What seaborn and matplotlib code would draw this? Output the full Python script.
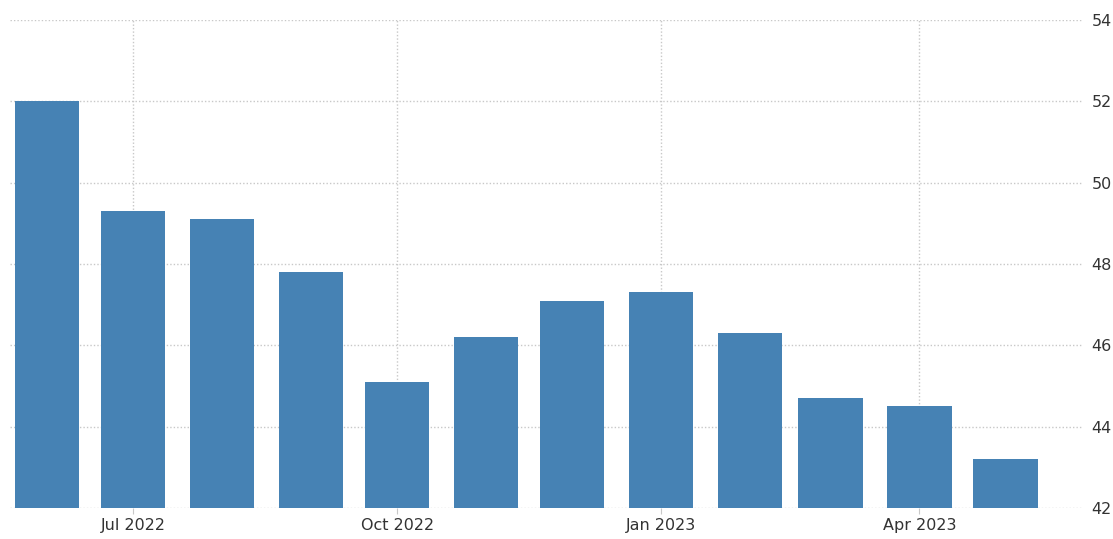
import matplotlib
matplotlib.use("Agg")
import matplotlib.pyplot as plt
import matplotlib.dates as mdates
import numpy as np
import pandas as pd
import seaborn as sns

# Monthly index readings, Jun 2022 - May 2023
months = ["2022-06-01", "2022-07-01", "2022-08-01", "2022-09-01", "2022-10-01",
          "2022-11-01", "2022-12-01", "2023-01-01", "2023-02-01", "2023-03-01",
          "2023-04-01", "2023-05-01"]
values = [52.0, 49.3, 49.1, 47.8, 45.1, 46.2, 47.1, 47.3, 46.3, 44.7, 44.5, 43.2]
tick_dates = ["2022-07-01", "2022-10-01", "2023-01-01", "2023-04-01"]
tick_labels = ["Jul 2022", "Oct 2022", "Jan 2023", "Apr 2023"]
y_ticks = [42, 44, 46, 48, 50, 52, 54]

sns.set_style("white")
plt.rcParams["font.family"] = ["DejaVu Sans"]

df = pd.DataFrame({
    "date": mdates.date2num(pd.to_datetime(months)),
    "value": values,
})

fig = plt.figure(figsize=(11.13, 5.39), dpi=100)
ax = fig.add_axes([10 / 1113, 31 / 539, 1073 / 1113, 488 / 539])

sns.barplot(data=df, x="date", y="value", native_scale=True, color="#4682b4",
            saturation=1, width=0.8, linewidth=0, edgecolor="none",
            ax=ax, zorder=3)

start = mdates.date2num(pd.Timestamp("2022-05-19"))
end = mdates.date2num(pd.Timestamp("2023-05-28"))
ax.set_xlim(start, end)
ax.set_ylim(42, 54)

ax.set_xticks(mdates.date2num(pd.to_datetime(tick_dates)))
ax.set_xticklabels(tick_labels)
ax.set_yticks(y_ticks)
ax.yaxis.tick_right()

ax.grid(True, which="major", axis="both", linestyle=(0, (1, 1.5)),
        color="#c8c8c8", linewidth=1, zorder=0)
ax.set_axisbelow(True)

for s in ax.spines.values():
    s.set_visible(False)

ax.tick_params(axis="x", length=4, width=0.8, color="#c8c8c8", labelsize=11.5,
               labelcolor="#333333", pad=3, direction="out", bottom=True)
ax.tick_params(axis="y", length=0, labelsize=11.5, labelcolor="#333333", pad=6)

ax.set_xlabel("")
ax.set_ylabel("")

fig.savefig("out.png", dpi=100)
